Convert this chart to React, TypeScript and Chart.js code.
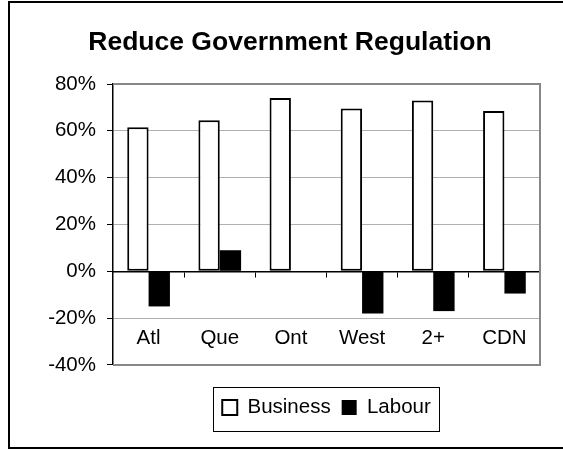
import React, { useEffect, useRef } from 'react';
import { Chart, registerables } from 'chart.js';

Chart.register(...registerables);

const titleText = 'Reduce Government Regulation';
const categories = ['Atl', 'Que', 'Ont', 'West', '2+', 'CDN'];
const seriesNames = ['Business', 'Labour'];
const businessValues = [61.5, 64.5, 74, 69.5, 73, 68.5];
const labourValues = [-15, 9, 0, -18, -17, -9.5];
const yMin = -40;
const yMax = 80;
const yStep = 20;

const FONT = "'Liberation Sans', Arial, Helvetica, sans-serif";

const decorPlugin = {
  id: 'decor',
  beforeDraw(chart: any) {
    const ctx = chart.ctx;
    ctx.save();
    ctx.strokeStyle = '#000';
    ctx.lineWidth = 2;
    ctx.strokeRect(9, 2, 620, 446);
    ctx.restore();
  },
  beforeDatasetsDraw(chart: any) {
    const { ctx, chartArea } = chart;
    ctx.save();
    ctx.strokeStyle = '#878787';
    ctx.lineWidth = 2;
    ctx.beginPath();
    ctx.moveTo(chartArea.left, chartArea.top);
    ctx.lineTo(chartArea.right, chartArea.top);
    ctx.lineTo(chartArea.right, chartArea.bottom);
    ctx.lineTo(chartArea.left, chartArea.bottom);
    ctx.stroke();
    ctx.restore();
  },
  afterDraw(chart: any) {
    const ctx = chart.ctx;
    const hb = chart.legend && chart.legend.legendHitBoxes;
    if (!hb || !hb.length) return;
    const first = hb[0];
    const last = hb[hb.length - 1];
    const x0 = Math.round(first.left - 9) + 0.5;
    const x1 = Math.round(last.left + last.width + 8) + 0.5;
    const y0 = Math.round(first.top - 10) + 0.5;
    const y1 = Math.round(first.top + 34) + 0.5;
    ctx.save();
    ctx.strokeStyle = '#000';
    ctx.lineWidth = 1;
    ctx.strokeRect(x0, y0, x1 - x0, y1 - y0);
    ctx.restore();
  },
};

export default function App() {
  const ref = useRef<HTMLCanvasElement | null>(null);

  useEffect(() => {
    if (!ref.current) return;
    const tickFont = { family: FONT, size: 20.5 };
    const chart = new Chart(ref.current, {
      type: 'bar',
      data: {
        labels: categories,
        datasets: [
          {
            label: seriesNames[0],
            data: businessValues,
            backgroundColor: '#ffffff',
            borderColor: '#000000',
            borderWidth: 2,
            borderSkipped: false,
            barPercentage: 1,
            categoryPercentage: 0.6,
          },
          {
            label: seriesNames[1],
            data: labourValues,
            backgroundColor: '#000000',
            borderColor: '#000000',
            borderWidth: 0,
            barPercentage: 1,
            categoryPercentage: 0.6,
          },
        ],
      },
      options: {
        responsive: false,
        animation: false,
        events: [],
        layout: { padding: { left: 40, right: 23, top: 10, bottom: 22.3 } },
        plugins: {
          title: {
            display: true,
            text: titleText,
            color: '#000',
            font: { family: FONT, size: 26.5, weight: 'bold' },
            padding: { top: 17.1, bottom: 25.1 },
          },
          legend: {
            position: 'bottom',
            fullSize: false,
            labels: {
              color: '#000',
              font: tickFont,
              boxWidth: 15,
              boxHeight: 15,
              padding: 11,
            },
            title: { display: true, text: '', font: { size: 17.7 }, padding: 0 },
          },
          tooltip: { enabled: false },
        },
        scales: {
          x: {
            position: { y: 0 },
            grid: {
              display: true,
              drawOnChartArea: false,
              drawTicks: true,
              tickLength: 5,
              tickColor: '#000',
              offset: true,
            },
            border: { display: true, color: '#000', width: 1.5 },
            ticks: {
              color: '#000',
              font: tickFont,
              padding: 50,
              maxRotation: 0,
              autoSkip: false,
            },
            afterFit: (s: any) => {
              s.paddingLeft = 0;
              s.paddingRight = 0;
            },
          },
          y: {
            min: yMin,
            max: yMax,
            ticks: {
              stepSize: yStep,
              callback: (v: any) => v + '%',
              color: '#000',
              font: tickFont,
              padding: 11,
            },
            grid: {
              color: '#b0b0b0',
              lineWidth: 1,
              tickLength: 6,
              tickColor: '#000',
              drawTicks: true,
            },
            border: { color: '#000', width: 1.5 },
            afterFit: (s: any) => {
              s.width = 73;
            },
          },
        },
      } as any,
      plugins: [decorPlugin],
    });
    return () => chart.destroy();
  }, []);

  return (
    <div style={{ position: 'fixed', left: 0, top: 0, width: 563, height: 450, background: '#fff' }}>
      <canvas ref={ref} width={563} height={450} style={{ display: 'block', width: 563, height: 450 }} />
    </div>
  );
}
